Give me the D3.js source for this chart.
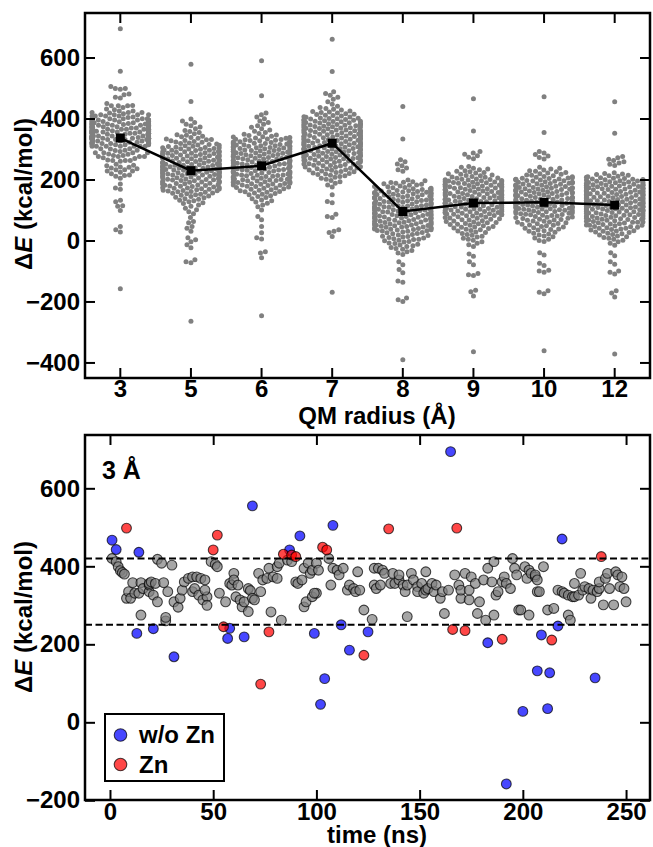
<!DOCTYPE html>
<html>
<head>
<meta charset="utf-8">
<script src="https://cdn.jsdelivr.net/npm/d3@7"></script>
<style>
body { margin: 0; background: #fff; }
svg text { font-family: "Liberation Sans", Arial, sans-serif; font-weight: bold; font-size: 24px; }
</style>
</head>
<body>
<svg id="fig" width="653" height="847"></svg>
<script>
// QM radius categories and the mean line
var radii = ["3", "5", "6", "7", "8", "9", "10", "12"];
var meanE = [336, 229, 245, 319, 95, 123, 125, 116];

// 3 A run: [time (ns), dE (kcal/mol)]
var grayPts = [
  [1,420],[3,412],[4,399],[5,389],[6,384],[7,380],[8,318],[9,335],[10,318],[11,358],[12,331],[14,331],[15,275],[15,358],
  [16,343],[19,335],[19,352],[19,356],[20,360],[21,326],[22,356],[23,309],[23,418],[25,408],[26,358],[27,260],[27,269],
  [28,335],[30,403],[31,309],[33,295],[34,318],[35,339],[36,360],[38,369],[40,373],[40,335],[41,343],[42,373],[43,326],
  [44,369],[45,314],[46,365],[47,322],[46,339],[47,300],[49,412],[51,405],[52,399],[53,331],[56,309],[58,356],[59,352],
  [60,382],[60,365],[62,352],[61,322],[63,314],[64,296],[65,309],[67,284],[67,343],[68,338],[69,318],[70,314],[72,382],
  [73,335],[74,365],[76,369],[77,395],[78,283],[79,373],[81,399],[81,369],[82,408],[83,262],[86,416],[88,412],[90,360],
  [91,356],[93,365],[94,296],[94,395],[95,309],[96,408],[97,382],[98,322],[98,390],[100,331],[100,408],[101,390],[99,331],
  [106,420],[107,352],[108,395],[110,390],[111,378],[113,395],[115,339],[116,352],[118,343],[119,335],[120,386],[121,339],
  [123,288],[127,264],[128,395],[128,352],[129,343],[130,395],[131,352],[132,390],[133,382],[136,356],[137,382],[138,356],
  [140,365],[140,378],[142,352],[143,335],[144,271],[144,352],[146,382],[147,365],[149,348],[149,335],[151,356],[152,331],
  [153,386],[153,339],[154,343],[156,356],[157,335],[158,352],[160,318],[161,335],[162,279],[164,339],[167,378],[169,352],
  [170,318],[170,339],[172,382],[174,314],[174,339],[175,373],[177,356],[178,279],[179,309],[181,365],[182,262],[183,395],
  [185,360],[186,412],[186,275],[187,326],[188,335],[190,360],[191,373],[192,356],[194,343],[195,420],[196,395],[197,378],
  [198,288],[199,288],[201,399],[202,369],[203,275],[203,390],[204,382],[206,373],[207,335],[206,378],[207,365],[208,335],
  [210,399],[212,288],[215,292],[217,339],[219,335],[220,331],[222,326],[222,275],[223,262],[224,322],[225,356],[225,322],
  [227,326],[228,382],[229,339],[230,348],[232,343],[233,318],[234,339],[236,335],[237,343],[237,360],[239,301],[240,369],
  [241,382],[242,343],[244,301],[245,386],[246,378],[247,348],[248,373],[249,343],[250,309]
];
var bluePts = [
  [1,467],[3,443],[13,228],[14,436],[21,240],[31,168],[57,215],[58,241],[65,219],[69,555],[87,442],[92,478],[99,228],
  [102,46],[104,112],[108,505],[112,250],[116,185],[125,232],[165,694],[183,204],[192,-158],[200,28],[207,132],[209,224],
  [212,35],[213,127],[217,247],[219,470],[235,114]
];
var redPts = [
  [8,498],[50,442],[52,480],[55,245],[73,98],[77,232],[84,431],[88,429],[90,425],[103,449],[105,442],[123,172],[135,496],
  [166,238],[168,498],[172,235],[190,213],[214,211],[238,425]
];

// swarm values for the larger QM radii (kcal/mol)
var e5 = [578,456,398,392,387,381,376,372,366,361,357,354,350,347,345,342,340,338,335,333,331,330,
  328,327,325,323,322,320,318,316,315,313,312,311,309,308,306,305,304,304,302,301,300,
  299,297,296,296,295,293,292,291,291,290,289,288,286,286,285,284,283,282,280,280,
  279,278,277,277,275,274,273,273,271,270,269,268,268,266,265,264,264,263,261,261,260,
  259,258,256,256,255,254,254,252,251,250,250,249,248,247,247,246,244,243,243,242,241,240,240,
  239,238,238,237,235,235,234,233,232,232,231,230,229,228,227,226,226,225,224,222,222,221,220,220,
  219,218,217,216,215,215,213,212,212,211,210,209,208,207,206,205,205,203,202,201,200,
  199,198,197,196,194,194,193,192,191,190,189,188,187,186,184,183,182,181,180,
  179,178,177,175,174,173,172,171,170,169,168,166,165,164,163,162,161,160,
  158,156,155,153,152,150,148,146,144,142,140,137,135,132,130,127,124,121,116,112,106,101,
  94,88,75,62,58,46,40,30,9,2,-4,-14,-24,-63,-70,-73,-265];
var e6 = [589,475,418,412,405,399,392,387,381,376,371,366,362,358,354,351,348,346,344,342,340,
  339,338,336,335,333,332,331,330,329,328,327,325,325,324,323,321,321,320,
  319,318,316,316,315,314,313,311,311,310,309,308,307,306,305,304,303,302,301,300,
  299,298,297,295,295,294,293,291,291,290,289,288,287,286,285,284,282,282,281,280,
  279,278,277,276,274,274,273,272,271,270,269,268,267,266,265,263,263,262,261,260,
  259,258,257,256,254,254,253,252,251,250,249,248,247,245,245,244,243,242,241,240,
  239,238,237,236,235,234,233,232,231,230,229,228,226,226,225,224,223,222,221,220,
  219,218,217,215,215,214,213,212,211,210,209,208,207,206,205,204,202,202,201,200,
  199,198,197,196,195,193,193,192,191,190,189,188,187,186,185,184,182,182,181,180,
  178,177,175,174,172,171,170,168,166,165,163,161,160,158,156,154,152,150,
  147,144,141,137,133,130,126,122,116,111,
  100,79,68,46,25,9,5,-37,-41,-57,-247];
var e7 = [660,554,488,482,476,470,463,455,447,440,436,433,430,428,425,423,421,420,
  418,416,414,413,411,410,408,406,405,404,402,401,400,
  399,398,397,395,395,394,393,391,391,390,389,388,387,386,385,383,383,382,381,380,380,
  379,378,376,376,375,374,373,372,371,370,369,368,367,366,365,364,362,362,361,360,360,
  359,358,357,356,355,353,353,352,351,350,349,348,347,346,344,344,343,342,341,340,340,
  339,338,337,336,334,334,333,332,331,330,329,328,327,326,325,323,323,322,321,320,320,
  319,318,317,315,315,314,313,312,311,310,309,308,307,306,305,304,302,302,301,300,300,
  299,298,297,296,294,294,293,292,291,290,289,288,287,286,285,283,283,282,281,280,280,
  279,278,277,276,275,274,272,272,271,270,269,268,267,265,265,264,263,262,261,260,
  258,257,256,254,253,252,251,250,249,247,246,245,244,242,241,240,
  238,237,235,234,232,231,230,228,226,225,223,221,220,218,216,214,212,210,
  207,204,201,197,193,188,182,175,
  150,128,124,86,79,75,35,30,26,13,-170];
var e8 = [439,333,265,258,251,245,238,232,227,
  198,196,193,191,190,188,186,184,182,181,179,177,176,174,173,171,170,
  169,168,167,165,164,163,162,161,160,
  159,158,157,156,155,153,153,152,151,150,149,148,147,146,145,143,143,142,141,140,
  139,138,137,136,135,134,133,131,131,130,129,128,127,126,125,124,122,122,121,120,
  119,118,117,116,114,114,113,112,111,110,109,108,107,106,105,103,103,102,101,100,
  99,98,97,96,95,94,93,91,91,90,89,88,87,86,85,84,82,82,81,80,
  79,78,77,76,74,74,73,72,71,70,69,68,67,66,65,63,63,62,61,60,
  59,58,57,56,55,54,53,51,51,50,49,48,47,46,44,44,43,42,41,40,
  39,38,37,36,35,34,33,32,31,30,
  28,26,25,23,22,20,18,16,14,13,11,10,8,6,4,3,1,-1,-3,-5,-8,-10,-12,-15,-17,-20,-23,-26,-29,-33,-37,-41,-46,
  -70,-80,-95,-106,-133,-137,-189,-194,-200,-391];
var e9 = [465,359,292,287,283,278,273,268,
  243,240,237,234,232,229,227,225,223,221,219,217,215,213,212,210,208,207,205,204,202,201,200,
  199,198,197,196,195,193,193,192,191,190,189,188,187,186,184,184,183,182,181,180,
  179,178,177,176,175,174,173,172,171,170,169,168,166,166,165,164,163,162,161,160,
  159,158,157,156,154,154,153,152,151,150,149,148,147,146,145,144,142,142,141,140,
  139,138,137,135,135,134,133,132,131,130,129,128,127,126,125,123,123,122,121,120,
  119,118,117,116,115,114,113,111,111,110,109,108,107,106,105,104,102,102,101,100,
  99,98,97,96,95,94,92,92,91,90,89,88,87,86,85,84,83,82,81,80,
  78,77,75,74,73,71,70,68,67,65,64,62,61,59,58,56,55,53,52,50,
  48,46,44,43,41,39,37,35,33,31,28,26,23,20,17,14,11,7,4,1,-4,-9,-14,-20,
  -44,-52,-70,-80,-108,-112,-115,-163,-168,-182,-365];
var e10 = [471,354,292,287,282,277,272,267,
  240,237,234,231,229,227,225,223,221,219,217,215,214,212,210,209,207,206,205,
  204,203,202,201,200,199,198,197,196,195,194,193,191,191,190,189,188,187,186,185,184,183,182,181,180,
  179,178,177,176,174,174,173,172,171,170,169,168,167,166,165,164,162,162,161,160,
  159,158,157,156,155,154,153,151,151,150,149,148,147,146,145,144,143,142,141,140,
  139,138,137,136,135,134,133,132,130,130,129,128,127,126,125,124,123,122,121,120,
  119,118,117,116,115,113,113,112,111,110,109,108,107,106,105,104,103,102,101,100,
  99,98,97,96,95,94,92,91,90,89,88,86,85,84,83,82,80,
  79,77,76,75,73,72,70,69,67,66,64,63,61,60,58,56,55,53,51,50,
  48,46,44,42,40,38,36,34,32,30,27,24,21,18,15,12,8,4,0,-3,
  -40,-48,-75,-82,-98,-100,-104,-165,-170,-175,-362];
var e12 = [455,352,275,271,266,262,258,254,250,246,
  222,220,218,216,214,212,211,209,207,206,204,203,202,201,200,
  199,198,197,196,195,194,193,192,191,190,
  189,188,187,186,185,184,183,182,181,181,180,180,
  179,178,177,176,175,174,173,172,171,171,170,170,
  169,168,167,166,165,164,163,162,161,160,160,160,
  159,158,157,156,155,154,153,152,151,151,150,150,
  149,148,147,146,145,144,143,142,141,141,140,140,
  139,138,137,136,135,134,133,132,131,131,130,130,
  129,128,127,126,125,124,123,122,121,121,120,120,
  119,118,117,116,115,114,113,112,111,111,110,110,
  109,108,107,106,105,104,103,102,101,101,100,100,
  99,98,97,96,95,94,93,92,91,90,
  89,88,87,85,84,83,82,81,80,80,
  79,78,76,75,74,73,72,71,70,70,
  69,67,66,65,63,62,61,60,60,
  58,57,55,54,52,51,50,50,
  48,46,45,43,42,40,40,
  38,36,34,32,31,30,
  28,26,24,22,20,
  18,15,12,10,
  7,4,1,-4,-9,-16,
  -40,-50,-70,-78,-100,-104,-110,-165,-172,-185,-372];

var yTicksTop = [-400, -200, 0, 200, 400, 600];
var yTicksBot = [-200, 0, 200, 400, 600];
var xTicksBot = [0, 50, 100, 150, 200, 250];
var cutoffs = [420, 250];

var e3 = grayPts.concat(bluePts, redPts).map(function (d) { return d[1]; });
var swarmVals = [e3, e5, e6, e7, e8, e9, e10, e12];

// ---- layout ----
var svg = d3.select('#fig');
var L = 85, R = 650;
var top1 = 13, bot1 = 378, top2 = 435, bot2 = 800;

var x1 = d3.scaleBand().domain(radii).range([L, R]);
var y1 = d3.scaleLinear().domain([-451, 746]).range([bot1, top1]);
var x2 = d3.scaleLinear().domain([-12.1, 261.6]).range([L, R]);
var y2 = d3.scaleLinear().domain([-199.2, 736.7]).range([bot2, top2]);

// seaborn-like beeswarm: sorted by value, nearest free slot to centre, then gutters
function swarm(vals, r, halfW) {
    var d = 2 * r;
    var pts = vals.map(function (v) { return { v: v, y: y1(v), x: 0 }; });
    pts.sort(function (a, b) { return a.v - b.v; });
    var placed = [];
    pts.forEach(function (p) {
        var nb = placed.filter(function (q) { return Math.abs(q.y - p.y) < d; });
        var cand = [0];
        nb.forEach(function (q) {
            var dx = Math.sqrt(d * d - (q.y - p.y) * (q.y - p.y));
            cand.push(q.x - dx, q.x + dx);
        });
        cand.sort(function (a, b) { return Math.abs(a) - Math.abs(b); });
        for (var i = 0; i < cand.length; i++) {
            var c = cand[i];
            var ok = nb.every(function (q) {
                return (q.x - c) * (q.x - c) + (q.y - p.y) * (q.y - p.y) >= d * d - 0.01;
            });
            if (ok) { p.x = c; break; }
        }
        placed.push(p);
    });
    pts.forEach(function (p) { p.x = Math.max(-halfW, Math.min(halfW, p.x)); });
    return pts;
}

// ---- top panel ----
var bw = x1.bandwidth();
radii.forEach(function (c, i) {
    var cx = x1(c) + bw / 2;
    var pts = swarm(swarmVals[i], 2.5, bw * 0.4);
    svg.append('g').selectAll('circle')
        .data(pts)
        .enter()
        .append('circle')
        .attr('cx', function (d) { return cx + d.x; })
        .attr('cy', function (d) { return d.y; })
        .attr('r', 2.5)
        .attr('fill', '#808080');
});

var meanData = radii.map(function (c, i) { return { c: c, m: meanE[i] }; });
svg.append('path')
    .datum(meanData)
    .attr('fill', 'none')
    .attr('stroke', '#000')
    .attr('stroke-width', 2.5)
    .attr('d', d3.line()
        .x(function (d) { return x1(d.c) + bw / 2; })
        .y(function (d) { return y1(d.m); }));
svg.append('g').selectAll('rect')
    .data(meanData)
    .enter()
    .append('rect')
    .attr('x', function (d) { return x1(d.c) + bw / 2 - 4.5; })
    .attr('y', function (d) { return y1(d.m) - 4.5; })
    .attr('width', 9)
    .attr('height', 9)
    .attr('fill', '#000');

function styleAxis(g) {
    g.select('.domain').remove();
    g.selectAll('line').attr('stroke-width', 2);
    g.attr('font-family', null).attr('font-size', null);
}

svg.append('g').attr('transform', `translate(0,${bot1})`)
    .call(d3.axisBottom(x1).tickSizeInner(-10).tickSizeOuter(0).tickPadding(2)).call(styleAxis);
svg.append('g').attr('transform', `translate(0,${top1})`)
    .call(d3.axisTop(x1).tickSizeInner(-10).tickSizeOuter(0).tickFormat('')).call(styleAxis);
svg.append('g').attr('transform', `translate(${L},0)`)
    .call(d3.axisLeft(y1).tickValues(yTicksTop).tickSizeInner(-10).tickSizeOuter(0).tickPadding(5)).call(styleAxis);
svg.append('g').attr('transform', `translate(${R},0)`)
    .call(d3.axisRight(y1).tickValues(yTicksTop).tickSizeInner(-10).tickSizeOuter(0).tickFormat('')).call(styleAxis);
svg.append('rect').attr('x', L).attr('y', top1).attr('width', R - L).attr('height', bot1 - top1)
    .attr('fill', 'none').attr('stroke', '#000').attr('stroke-width', 2.5);

svg.append('text').attr('x', 377).attr('y', 424).attr('text-anchor', 'middle').text('QM radius (Å)');

function yLabel(cy) {
    var t = svg.append('text').attr('text-anchor', 'middle')
        .attr('transform', `translate(32,${cy}) rotate(-90)`);
    t.append('tspan').text('Δ');
    t.append('tspan').attr('font-style', 'italic').text('E');
    t.append('tspan').text(' (kcal/mol)');
}
yLabel(194);

// ---- bottom panel ----
function dots(data, fill, fillOp) {
    svg.append('g').selectAll('circle')
        .data(data)
        .enter()
        .append('circle')
        .attr('cx', function (d) { return x2(d[0]); })
        .attr('cy', function (d) { return y2(d[1]); })
        .attr('r', 4.9)
        .attr('fill', fill)
        .attr('fill-opacity', fillOp)
        .attr('stroke', '#000')
        .attr('stroke-opacity', 0.7)
        .attr('stroke-width', 1.1);
}
dots(grayPts, '#808080', 0.7);
dots(bluePts, '#0000ff', 0.72);
dots(redPts, '#ff0000', 0.72);

svg.append('g').selectAll('line')
    .data(cutoffs)
    .enter()
    .append('line')
    .attr('x1', L).attr('x2', R)
    .attr('y1', function (d) { return y2(d); })
    .attr('y2', function (d) { return y2(d); })
    .attr('stroke', '#000')
    .attr('stroke-width', 2)
    .attr('stroke-dasharray', '7,3.5');

svg.append('g').attr('transform', `translate(0,${bot2})`)
    .call(d3.axisBottom(x2).tickValues(xTicksBot).tickSizeInner(-10).tickSizeOuter(0).tickPadding(3)).call(styleAxis);
svg.append('g').attr('transform', `translate(0,${top2})`)
    .call(d3.axisTop(x2).tickValues(xTicksBot).tickSizeInner(-10).tickSizeOuter(0).tickFormat('')).call(styleAxis);
svg.append('g').attr('transform', `translate(${L},0)`)
    .call(d3.axisLeft(y2).tickValues(yTicksBot).tickSizeInner(-10).tickSizeOuter(0).tickPadding(5)).call(styleAxis);
svg.append('g').attr('transform', `translate(${R},0)`)
    .call(d3.axisRight(y2).tickValues(yTicksBot).tickSizeInner(-10).tickSizeOuter(0).tickFormat('')).call(styleAxis);
svg.append('rect').attr('x', L).attr('y', top2).attr('width', R - L).attr('height', bot2 - top2)
    .attr('fill', 'none').attr('stroke', '#000').attr('stroke-width', 2.5);

svg.append('text').attr('x', 377).attr('y', 843).attr('text-anchor', 'middle').text('time (ns)');
yLabel(617);

svg.append('text').attr('x', 102).attr('y', 479).style('font-size', '25px').text('3 Å');

// legend
var legend = svg.append('g');
legend.append('rect').attr('x', 105).attr('y', 714).attr('width', 119).attr('height', 67)
    .attr('fill', '#fff').attr('stroke', '#000').attr('stroke-width', 2);
var legItems = [{ label: 'w/o Zn', color: '#0000ff' }, { label: 'Zn', color: '#ff0000' }];
legItems.forEach(function (d, i) {
    var cy = 735 + i * 29.5;
    legend.append('circle').attr('cx', 120.5).attr('cy', cy).attr('r', 6.3)
        .attr('fill', d.color).attr('fill-opacity', 0.72)
        .attr('stroke', '#000').attr('stroke-opacity', 0.7).attr('stroke-width', 1.1);
    legend.append('text').attr('x', 139).attr('y', cy + 8).text(d.label);
});
</script>
</body>
</html>
